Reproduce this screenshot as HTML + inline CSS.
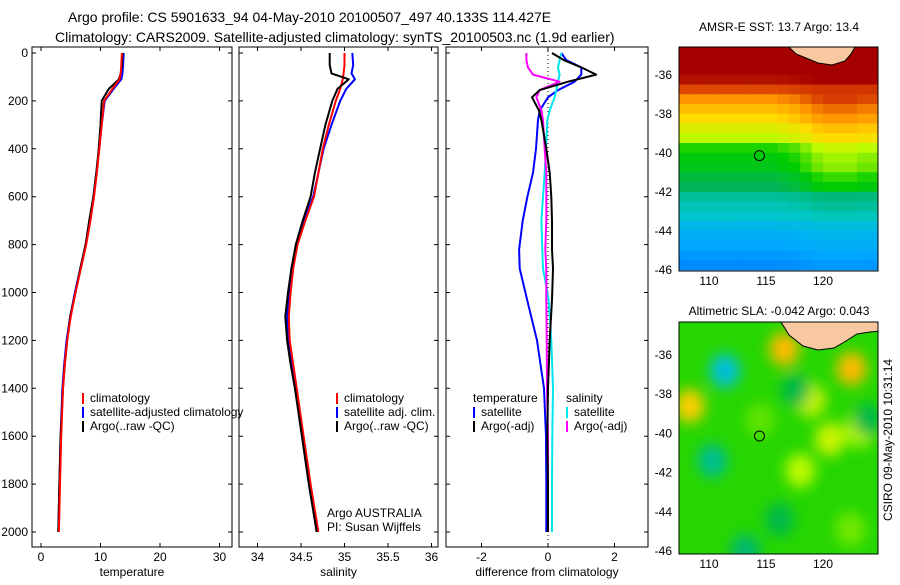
<!DOCTYPE html>
<html><head><meta charset="utf-8"><style>
body{margin:0;background:#fff;font-family:"Liberation Sans",sans-serif;}
svg text{font-family:"Liberation Sans",sans-serif;fill:#000}
</style></head><body>
<svg id="c" width="900" height="580" xmlns="http://www.w3.org/2000/svg">
<defs>
<filter id="blur" x="-50%" y="-50%" width="200%" height="200%"><feGaussianBlur stdDeviation="7"/></filter>
<clipPath id="clipTop"><rect x="679" y="47" width="199" height="224"/></clipPath>
<clipPath id="clipBot"><rect x="679" y="322" width="199" height="232"/></clipPath>
<clipPath id="clipP1"><rect x="32" y="47" width="200" height="500"/></clipPath>
<clipPath id="clipP2"><rect x="239" y="47" width="199" height="500"/></clipPath>
<clipPath id="clipP3"><rect x="446" y="47" width="202" height="500"/></clipPath>
</defs>
<text x="68" y="22" font-size="14">Argo profile: CS 5901633_94 04-May-2010 20100507_497 40.133S 114.427E</text>
<text x="55" y="42" font-size="14">Climatology: CARS2009. Satellite-adjusted climatology: synTS_20100503.nc (1.9d earlier)</text>
<g id="g"></g>
</svg>
<script>
// ---------- data ----------
var depths = [0,50,85,110,150,200,300,400,500,600,700,800,900,1000,1100,1200,1300,1400,1600,1800,2000];
var tempClim = [13.6,13.5,13.4,13.2,12.0,10.6,10.2,9.8,9.4,8.9,8.3,7.6,6.7,5.8,5.0,4.4,4.0,3.7,3.4,3.2,3.0];
var tempSat  = [13.9,13.8,13.7,13.5,12.2,10.7,10.2,9.8,9.3,8.8,8.2,7.5,6.6,5.7,4.9,4.3,3.9,3.6,3.3,3.1,2.9];
var tempArgo = [13.7,13.6,13.4,13.1,11.4,10.2,10.0,9.7,9.3,8.8,8.1,7.5,6.6,5.8,4.9,4.4,4.0,3.7,3.3,3.1,2.9];
var salClim = [35.00,35.00,34.99,34.98,34.95,34.90,34.82,34.75,34.70,34.65,34.55,34.46,34.41,34.38,34.36,34.37,34.41,34.45,34.53,34.61,34.70];
var salSat  = [35.09,35.10,35.08,35.12,35.02,34.95,34.85,34.76,34.70,34.64,34.53,34.45,34.39,34.36,34.34,34.36,34.40,34.44,34.52,34.60,34.68];
var salArgo = [34.83,34.83,34.85,35.05,34.92,34.86,34.78,34.72,34.66,34.61,34.52,34.44,34.39,34.35,34.32,34.34,34.38,34.43,34.51,34.59,34.68];
var diffDepths = [0,30,60,90,120,155,185,240,280,400,500,600,700,820,900,1030,1200,1400,1600,1800,2000];
var dTempSat  = [0.4,0.55,1.0,1.0,0.8,0.3,0.0,-0.25,-0.3,-0.36,-0.45,-0.62,-0.76,-0.87,-0.85,-0.63,-0.33,-0.12,-0.06,-0.05,-0.05];
var dTempArgo = [0.12,0.48,1.0,1.45,0.6,-0.25,-0.48,-0.27,-0.2,-0.05,0.05,0.1,0.12,0.12,0.15,0.12,0.05,0.0,-0.02,0.0,0.0];
var dSalSat   = [0.4,0.35,0.3,0.35,0.3,0.25,0.2,0.05,-0.02,-0.06,-0.1,-0.15,-0.2,-0.17,-0.15,0.02,0.1,0.15,0.13,0.12,0.12];
var dSalArgo  = [-0.65,-0.65,-0.6,-0.45,0.35,-0.25,-0.35,-0.2,-0.15,-0.1,-0.05,-0.05,-0.05,-0.08,-0.05,-0.05,-0.04,-0.03,0.0,0.0,0.0];
var depthTicks = [0,200,400,600,800,1000,1200,1400,1600,1800,2000];
var tempTicks = [0,10,20,30];
var salTicks = [34,34.5,35,35.5,36];
var diffTicks = [-2,0,2];
var sstLats = [-34.5,-35,-35.5,-36,-36.5,-37,-37.5,-38,-38.5,-39,-39.5,-40,-40.5,-41,-41.5,-42,-42.5,-43,-43.5,-44,-44.5,-45,-45.5,-46];
var sstVals = [17,17,17,17,16.8,16.2,15.6,15.2,14.9,14.5,14.2,13.6,13.4,13.3,13.0,12.8,12.4,12.2,12.0,11.5,11.2,11.0,10.8,10.6];
var sstLons = [107.5,108.5,109.5,110.5,111.5,112.5,113.5,114.5,115.5,116.5,117.5,118.5,119.5,120.5,121.5,122.5,123.5,124.5];
var sstLonOffset = [0,0,0,0,0,0,0,0,0,0.1,0.2,0.4,0.6,0.7,0.7,0.7,0.6,0.6];
var slaLon = [111.4,110.3,116.6,122.5,108.3,118.9,120.6,118.0,123.2,117.6,123.9,114.5,116.2,122.4,113.2];
var slaLat = [-36.8,-41.4,-35.7,-36.7,-38.6,-38.3,-40.3,-41.9,-39.8,-37.8,-39.3,-39.3,-44.4,-44.9,-46.0];
var slaVal = [-0.25,-0.15,0.25,0.25,0.22,0.12,0.12,0.1,0.1,-0.08,-0.08,0.05,-0.08,0.06,-0.12];
var latTicks = [-36,-38,-40,-42,-44,-46];
var lonTicks = [110,115,120];

// ---------- helpers ----------
var NS="http://www.w3.org/2000/svg", G=document.getElementById('g');
function mk(tag,attrs,parent){var e=document.createElementNS(NS,tag);for(var k in attrs)e.setAttribute(k,attrs[k]);(parent||G).appendChild(e);return e;}
function yD(d){return 53+d*0.2395;}
function xT(v){return 41+v*5.95;}
function xS(v){return 257.5+(v-34)*87;}
function xDf(v){return 548+v*33.25;}

function panel(name,x0,w,ticks,xf,fmt,label){
  var r=mk('rect',{x:x0,y:47,width:w,height:500,fill:'none',stroke:'#000','stroke-width':1});
  
  
  ticks.forEach(function(t){
    var x=xf(t);
    var l=mk('path',{d:'M'+x+' 47v4M'+x+' 547v-4',stroke:'#000'});
    
    
    var tx=mk('text',{x:x,y:561,'font-size':12,'text-anchor':'middle'});tx.textContent=fmt(t);
    
    
  });
  depthTicks.forEach(function(d){
    var l=mk('path',{d:'M'+x0+' '+yD(d)+'h4M'+(x0+w)+' '+yD(d)+'h-4',stroke:'#000'});
    
    
  });
  var xl=mk('text',{x:x0+w/2,y:576,'font-size':12,'text-anchor':'middle'});xl.textContent=label;
  
  
}
function line(name,ds,vs,xf,color,clip,w){
  var p='';for(var i=0;i<ds.length;i++)p+=(i?'L':'M')+xf(vs[i]).toFixed(1)+' '+yD(ds[i]).toFixed(1);
  var e=mk('path',{d:p,fill:'none',stroke:color,'stroke-width':w||2,'clip-path':'url(#'+clip+')','stroke-linejoin':'round'});
  
  
}
function legend(name,x,y,items){
  items.forEach(function(it,i){
    var yy=y+i*14;
    if(it[1]){var b=mk('rect',{x:x,y:yy-9,width:2,height:11,fill:it[1]});
      
      }
    var t=mk('text',{x:x+(it[1]?8:0),y:yy,'font-size':12});t.textContent=it[0];
    
    
  });
}

// ---------- profile panels ----------
panel('temperature-panel',32,200,tempTicks,xT,String,'temperature');
panel('salinity-panel',239,199,salTicks,xS,String,'salinity');
panel('difference-panel',446,202,diffTicks,xDf,String,'difference from climatology');
depthTicks.forEach(function(d){
  var t=mk('text',{x:28,y:yD(d)+4,'font-size':12,'text-anchor':'end'});t.textContent=d;
  
  
});
line('temp-satellite-line',depths,tempSat,xT,'#0000ff','clipP1');
line('temp-argo-line',depths,tempArgo,xT,'#000','clipP1');
line('temp-climatology-line',depths,tempClim,xT,'#ff0000','clipP1');
line('sal-satellite-line',depths,salSat,xS,'#0000ff','clipP2');
line('sal-climatology-line',depths,salClim,xS,'#ff0000','clipP2');
line('sal-argo-line',depths,salArgo,xS,'#000','clipP2');
var zl=mk('line',{x1:xDf(0),y1:47,x2:xDf(0),y2:547,stroke:'#000','stroke-dasharray':'1,3'});


line('diff-temp-satellite-line',diffDepths,dTempSat,xDf,'#0000ff','clipP3');
line('diff-sal-satellite-line',diffDepths,dSalSat,xDf,'#00e5ee','clipP3');
line('diff-sal-argo-line',diffDepths,dSalArgo,xDf,'#ff00ff','clipP3');
line('diff-temp-argo-line',diffDepths,dTempArgo,xDf,'#000','clipP3');
legend('temp-legend',82,402,[['climatology','#ff0000'],['satellite-adjusted climatology','#0000ff'],['Argo(..raw -QC)','#000']]);
legend('sal-legend',336,402,[['climatology','#ff0000'],['satellite adj. clim.','#0000ff'],['Argo(..raw -QC)','#000']]);
legend('diff-temp-legend',473,402,[['temperature',null],['satellite','#0000ff'],['Argo(-adj)','#000']]);
legend('diff-sal-legend',566,402,[['salinity',null],['satellite','#00e5ee'],['Argo(-adj)','#ff00ff']]);
var a1=mk('text',{x:327,y:517,'font-size':12});a1.textContent='Argo AUSTRALIA';


var a2=mk('text',{x:327,y:531,'font-size':12});a2.textContent='PI: Susan Wijffels';



// ---------- maps ----------
var pal=[[0,[0,100,255]],[0.15,[0,170,255]],[0.3,[0,200,200]],[0.4,[0,180,90]],[0.5,[0,205,0]],[0.6,[190,250,0]],[0.7,[255,220,0]],[0.8,[255,150,0]],[0.9,[215,60,0]],[1,[165,0,0]]];
function col(t){t=Math.max(0,Math.min(1,t));for(var i=1;i<pal.length;i++){if(t<=pal[i][0]){var a=pal[i-1],b=pal[i],f=(t-a[0])/(b[0]-a[0]);return 'rgb('+a[1].map(function(c,k){return Math.round(c+(b[1][k]-c)*f)}).join(',')+')';}}return 'rgb(165,0,0)';}
function lonX(l){return 709+(l-110)*11.4;}
function latYTop(l){return 75+(-36-l)*19.5;}
function latYBot(l){return 355+(-36-l)*19.6;}
// top SST map
var tg=mk('g',{'clip-path':'url(#clipTop)'});


sstLats.forEach(function(lat,i){
  sstLons.forEach(function(lon,j){
    var w=(lat<-37&&lat>-42.5)?1:0.3;
    var r=mk('rect',{x:lonX(lon-0.5),y:latYTop(lat)-10,width:11.9,height:10.3,fill:col((sstVals[i]+sstLonOffset[j]*w-10)/7)},tg);
    
    
  });
});
function land(g,pts,name){
  var p='';pts.forEach(function(q,i){p+=(i?'L':'M')+q[0]+' '+q[1];});p+='Z';
  var e=mk('path',{d:p,fill:'#f8c8a0',stroke:'#000','stroke-width':1},g);
  
  
}
land(tg,[[789,40],[789,47],[796,54],[806,58],[818,63],[832,65],[845,61],[851,54],[855,47],[855,40]],'sst-land');
var c1=mk('circle',{cx:lonX(114.427),cy:latYTop(-40.133),r:5,fill:'none',stroke:'#000','stroke-width':1});


// bottom SLA map
var bg=mk('g',{'clip-path':'url(#clipBot)'});


var bgr=mk('rect',{x:679,y:322,width:199,height:232,fill:col(0.52)},bg);


var bl=mk('g',{filter:'url(#blur)'},bg);
slaLon.forEach(function(lo,i){
  var e=mk('ellipse',{cx:lonX(lo),cy:latYBot(slaLat[i]),rx:15,ry:17,fill:col(0.5+slaVal[i])},bl);
  
  
});
land(bg,[[781,315],[781,322],[789,335],[803,346],[818,350],[834,348],[846,341],[857,334],[870,332],[880,331],[880,315]],'sla-land');
var c2=mk('circle',{cx:lonX(114.427),cy:latYBot(-40.133),r:5,fill:'none',stroke:'#000','stroke-width':1});


function mapAxes(name,y0,h,yf,title,ty){
  var r=mk('rect',{x:679,y:y0,width:199,height:h,fill:'none',stroke:'#000'});
  
  
  latTicks.forEach(function(l){
    var t=mk('text',{x:672,y:yf(l)+4,'font-size':12,'text-anchor':'end'});t.textContent=l;
    
    
  });
  lonTicks.forEach(function(l){
    var t=mk('text',{x:lonX(l),y:y0+h+14,'font-size':12,'text-anchor':'middle'});t.textContent=l;
    
    
  });
  var tt=mk('text',{x:779,y:ty,'font-size':12,'text-anchor':'middle'});tt.textContent=title;
  
  
}
mapAxes('sst-map',47,224,latYTop,'AMSR-E SST: 13.7 Argo: 13.4',31);
mapAxes('sla-map',322,232,latYBot,'Altimetric SLA: -0.042 Argo: 0.043',315);
var st=mk('text',{x:0,y:0,'font-size':12,'text-anchor':'middle',transform:'translate(892,440) rotate(-90)'});st.textContent='CSIRO 09-May-2010 10:31:14';


</script>
</body></html>
